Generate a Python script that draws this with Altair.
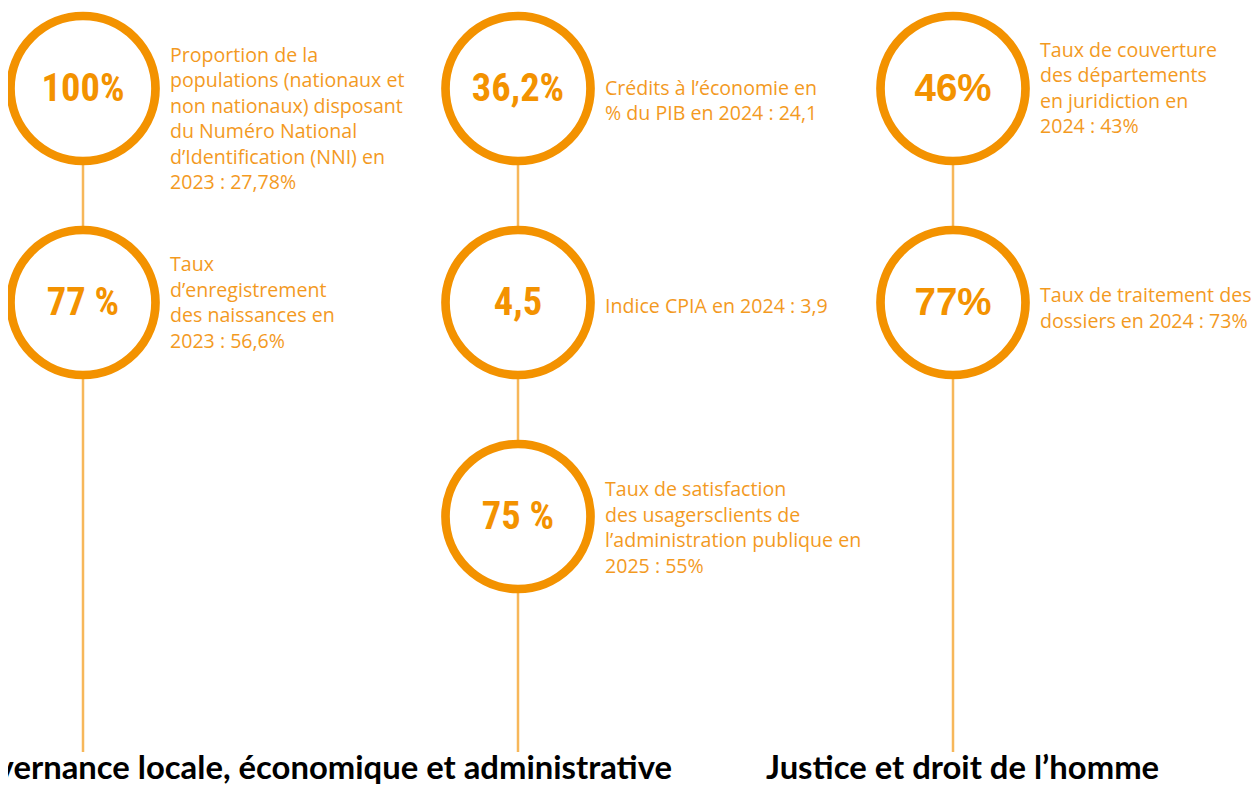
import altair as alt
import pandas as pd

# ---- data ----
columns = [0, 0, 1, 1, 1, 2, 2]
rows = [0, 1, 0, 1, 2, 0, 1]
values = ["100%", "77 %", "36,2%", "4,5", "75 %", "46%", "77%"]
labels = [
    "Proportion de la\npopulations (nationaux et\nnon nationaux) disposant\ndu Numéro National\nd’Identification (NNI) en\n2023 : 27,78%",
    "Taux\nd’enregistrement\ndes naissances en\n2023 : 56,6%",
    "Crédits à l’économie en\n% du PIB en 2024 : 24,1",
    "Indice CPIA en 2024 : 3,9",
    "Taux de satisfaction\ndes usagersclients de\nl’administration publique en\n2025 : 55%",
    "Taux de couverture\ndes départements\nen juridiction en\n2024 : 43%",
    "Taux de traitement des\ndossiers en 2024 : 73%",
]
section_titles = ["Gouvernance locale, économique et administrative", "Justice et droit de l’homme"]
section_cols = [1, 2]

# ---- layout (pixels) ----
W, H = 1243, 779
COL_PX, ROW_PX = 435.0, 214.0
X0, Y0 = 75.0, 80.5
label_shift_px = [-33, -37.5, 0, 4.5, -26.5, -37.7, -6.5]  # first-line offset from circle centre
LINE_END_ROW = (744 - Y0) / ROW_PX
TITLE_ROW = (771 - Y0) / ROW_PX

ORANGE = "#F39200"
LABEL_ORANGE = "#F39A1F"
LINE_ORANGE = "#F7B75A"

items = pd.DataFrame({
    "col": columns,
    "row": rows,
    "value": values,
    "label": labels,
})
items["label_row"] = [r + s / ROW_PX for r, s in zip(rows, label_shift_px)]

lines = pd.DataFrame({"col": [0, 1, 2], "top": [0, 0, 0], "bottom": [LINE_END_ROW] * 3})
titles = pd.DataFrame({"title": section_titles, "col": section_cols, "row": [TITLE_ROW] * 2})

xscale = alt.Scale(domain=[-X0 / COL_PX, (W - X0) / COL_PX], zero=False, nice=False)
yscale = alt.Scale(domain=[-Y0 / ROW_PX, (H - Y0) / ROW_PX], zero=False, nice=False, reverse=True)

X = lambda f: alt.X(f, type="quantitative", scale=xscale, axis=None)
Y = lambda f: alt.Y(f, type="quantitative", scale=yscale, axis=None)

rules = alt.Chart(lines).mark_rule(color=LINE_ORANGE, strokeWidth=2.5).encode(
    x=X("col"), y=Y("top"), y2="bottom"
)

circles = alt.Chart(items).mark_point(
    shape="circle", filled=False, fill="white", fillOpacity=1, stroke=ORANGE,
    strokeWidth=8.7, size=21025, opacity=1
).encode(x=X("col"), y=Y("row"))

nums_narrow = alt.Chart(items).transform_filter("datum.col < 2").mark_text(
    font="'Liberation Sans Narrow', 'Roboto Condensed', Roboto, sans-serif",
    fontWeight="bold", fontSize=38.5, color=ORANGE, baseline="middle", align="center"
).encode(x=X("col"), y=Y("row"), text="value")

nums_wide = alt.Chart(items).transform_filter("datum.col >= 2").mark_text(
    font="'Liberation Sans', Arial, sans-serif",
    fontWeight="bold", fontSize=38.5, color=ORANGE, baseline="middle", align="center"
).encode(x=X("col"), y=Y("row"), text="value")

texts = alt.Chart(items).mark_text(
    font="Open Sans", fontWeight="normal", fontSize=19.6, color=LABEL_ORANGE,
    align="left", baseline="middle", lineBreak="\n", lineHeight=25.5, dx=87
).encode(x=X("col"), y=Y("label_row"), text="label")

title1 = alt.Chart(titles).transform_filter("datum.col == 1").mark_text(
    font="Lato", fontWeight="bold", fontSize=32.8, color="black",
    align="right", baseline="alphabetic", dx=154
).encode(x=X("col"), y=Y("row"), text="title")

title2 = alt.Chart(titles).transform_filter("datum.col == 2").mark_text(
    font="Lato", fontWeight="bold", fontSize=32.8, color="black",
    align="left", baseline="alphabetic", dx=-187
).encode(x=X("col"), y=Y("row"), text="title")

chart = alt.layer(rules, circles, nums_narrow, nums_wide, texts, title1, title2).properties(
    width=W, height=H, padding=0, background="white", autosize=alt.AutoSizeParams(type="none")
).configure_view(stroke=None)

chart.save("out.html", embed_options={"renderer": "svg", "actions": False})
